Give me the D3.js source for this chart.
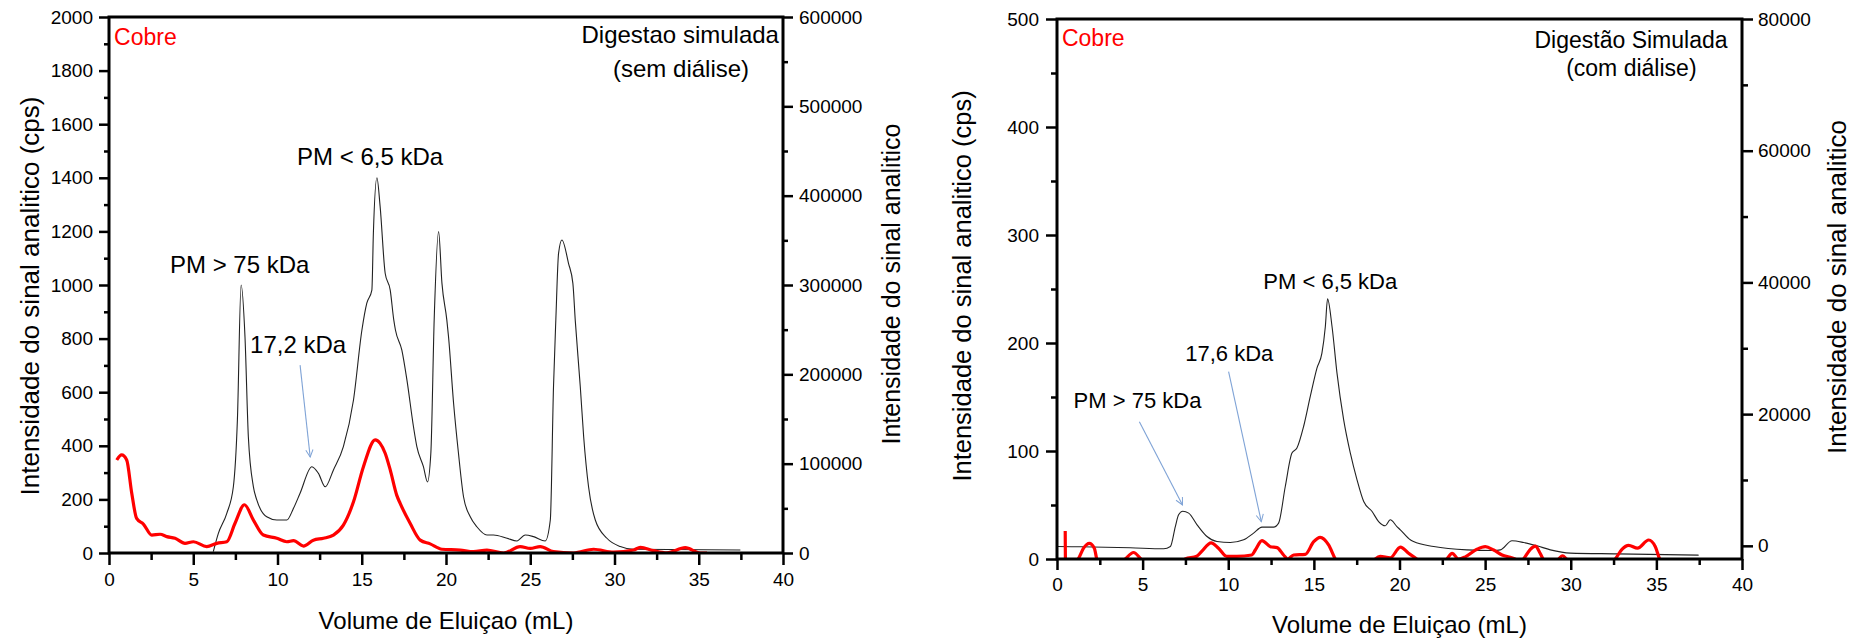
<!DOCTYPE html>
<html><head><meta charset="utf-8">
<script src="https://cdn.jsdelivr.net/npm/d3@7"></script>
<style>
body{margin:0;background:#fff}
svg{display:block}
text{font-family:"Liberation Sans",Arial,Helvetica,sans-serif;fill:#000}
</style>
</head><body>
<svg id="chart" width="1868" height="640"></svg>
<script>
// ---------- tick labels ----------
const xTickValues = [0, 5, 10, 15, 20, 25, 30, 35, 40];
const leftTicksSem = [0, 200, 400, 600, 800, 1000, 1200, 1400, 1600, 1800, 2000];
const rightTicksSem = [0, 100000, 200000, 300000, 400000, 500000, 600000];
const leftTicksCom = [0, 100, 200, 300, 400, 500];
const rightTicksCom = [0, 20000, 40000, 60000, 80000];

// ---------- series: [volume mL, value] ----------
// Cobre (left axis, cps) - digestão sem diálise
const cobreSem = [[0.46,347],[0.75,366],[1.05,347],[1.35,223],[1.64,129],[2.04,108],[2.54,67],[3.03,70],[3.43,61],[3.92,55],[4.51,36],[5.01,42],[5.80,24],[6.40,36],[6.99,42],[7.48,111],[8.04,180],[8.57,123],[9.16,67],[9.96,55],[10.55,42],[10.95,46],[11.54,26],[12.13,48],[12.73,55],[13.32,67],[13.91,104],[14.51,191],[15.10,322],[15.80,422],[16.09,409],[16.39,372],[16.69,310],[17.08,215],[17.28,185],[17.87,111],[18.47,48],[19.06,34],[19.76,14],[20.84,11],[21.63,5],[22.43,11],[23.42,0],[24.40,24],[25.00,17],[25.59,24],[26.38,5],[27.57,0],[28.76,14],[29.95,3],[31.13,11],[31.53,21],[32.32,9],[33.11,1],[34.20,20],[35.09,0],[35.49,0]];
// Sinal analítico (right axis) - digestão sem diálise
const sinalSem = [[6.19,1500],[6.49,21900],[6.99,44400],[7.38,74100],[7.62,148800],[7.84,300000],[8.07,242100],[8.27,130200],[8.57,74100],[8.77,59400],[9.36,40500],[9.96,36900],[10.55,36900],[10.95,50100],[11.34,66900],[12.04,96600],[12.43,89100],[12.83,74100],[13.32,93000],[13.91,119100],[14.51,171300],[15.01,249600],[15.30,279600],[15.60,294300],[15.69,357900],[15.90,420000],[16.09,388000],[16.39,313200],[16.69,294300],[16.90,261000],[17.00,249600],[17.38,227100],[17.68,193800],[18.07,141300],[18.27,119100],[18.66,96600],[18.90,79500],[19.10,111600],[19.30,262000],[19.56,359700],[19.76,301800],[20.05,260700],[20.15,242100],[20.45,167700],[20.74,111600],[21.04,63000],[21.44,40500],[21.83,29400],[22.43,20100],[22.82,20100],[23.62,16500],[24.21,13500],[24.70,20100],[25.20,18300],[25.89,13500],[26.19,36900],[26.38,186000],[26.52,262000],[26.68,335400],[26.88,350400],[27.27,324300],[27.53,301800],[27.67,260700],[27.97,186000],[28.17,130200],[28.46,74100],[28.86,36900],[29.55,16500],[30.34,7200],[31.13,4200],[37.47,3300]];
// Cobre (left axis, cps) - digestão com diálise
const cobreCom = [[0.48,26],[0.50,-10],[1.0,-5],[1.26,0.6],[1.55,10],[1.89,14.5],[2.18,10],[2.32,0],[2.6,-8],[3.5,-8],[3.99,0],[4.47,6],[4.9,0],[5.5,-8],[7.0,-8],[7.49,0],[8.16,2.5],[8.45,7],[9.0,15],[9.43,10],[9.91,2.5],[10.5,2.5],[11.38,3.7],[11.58,8.3],[11.97,17],[12.46,11.4],[12.85,10.5],[13.23,3.7],[13.47,0],[13.82,3.7],[14.50,4.3],[14.99,16],[15.37,20],[15.86,13],[16.25,0],[16.6,-8],[18.2,-8],[18.59,0],[18.87,2.5],[19.46,1],[20.05,11],[20.53,5.3],[21.0,0],[21.5,-8],[22.3,-8],[22.77,0],[23.07,5.3],[23.45,0],[23.84,2],[24.52,9],[25.01,11.4],[25.5,8.3],[25.99,3.7],[26.47,1.5],[26.76,0],[27.0,-5],[27.25,0],[27.64,9],[27.93,12],[28.22,5],[28.38,0],[28.8,-6],[29.3,0],[29.52,3],[29.75,0],[30.3,-8],[32.0,-8],[32.6,0],[32.99,9],[33.38,12.7],[33.9,10],[34.55,17.6],[34.94,11.4],[35.19,0],[35.4,-5]];
// Sinal analítico (right axis) - digestão com diálise
const sinalCom = [[0,-100],[1.36,-150],[4.28,-300],[6.23,-450],[6.62,-100],[6.91,2930],[7.10,4710],[7.34,5250],[7.69,4970],[8.18,3190],[8.76,1410],[9.34,650],[10.12,500],[10.90,910],[11.48,1930],[11.97,2840],[12.65,2840],[12.94,3450],[13.33,9010],[13.72,14080],[14.01,14840],[14.40,18120],[14.79,22680],[15.18,26990],[15.47,29270],[15.67,33310],[15.80,37500],[16.06,33310],[16.35,26230],[16.74,19140],[17.13,14080],[17.52,10030],[17.91,6730],[18.40,5210],[18.78,3690],[19.17,3040],[19.46,3950],[19.85,2930],[20.05,2430],[20.63,910],[20.82,650],[22.0,-100],[23.94,-610],[25.5,-710],[25.89,-610],[26.57,760],[27.25,500],[28.03,0],[28.81,-610],[29.97,-1110],[32.70,-1220],[37.47,-1420]];

// ---------- panels ----------
const svg = d3.select("#chart");
const defs = svg.append("defs");
defs.append("marker").attr("id","arrow").attr("viewBox","0 0 10 10")
  .attr("refX",9).attr("refY",5).attr("markerWidth",9).attr("markerHeight",9)
  .attr("markerUnits","userSpaceOnUse").attr("orient","auto")
  .append("path").attr("d","M1,1 L9,5 L1,9").attr("fill","none")
  .attr("stroke","#7fa3d6").attr("stroke-width",1.1);

const panels = [
  { id:"sem", x0:109, x1:783, y0:17, y1:553,
    leftDomain:[0,2000], rightDomain:[0,600000],
    leftTicks:leftTicksSem, leftMinorStep:100, rightTicks:rightTicksSem, rightMinorStep:50000,
    cobre:cobreSem, sinal:sinalSem,
    xTitleY:629, leftTitleX:39, leftTitleY:296, leftTitleFont:26, rightTitleX:900, rightTitleY:284, rightTitleFont:25,
    titleA:"Digestao simulada", titleB:"(sem diálise)", titlePos:[33.9,1903], titleBPos:[33.95,1776],
    cobrePos:[0.3,1896], annFont:24, titleFont:24,
    labels:[["PM > 75 kDa",3.62,1045],["PM < 6,5 kDa",11.16,1448],["17,2 kDa",8.37,746]],
    arrows:[[11.34,701,11.94,358]],
    xPad:8, leftPad:6, rightPad:6, majorX:12, minorX:7, majorY:10, minorY:5 },
  { id:"com", x0:1057, x1:1742, y0:19, y1:559,
    leftDomain:[0,500], rightDomain:[-2000,80000],
    leftTicks:leftTicksCom, leftMinorStep:50, rightTicks:rightTicksCom, rightMinorStep:10000,
    cobre:cobreCom, sinal:sinalCom,
    xTitleY:633, leftTitleX:971, leftTitleY:286, leftTitleFont:25.5, rightTitleX:1846, rightTitleY:287, rightTitleFont:26,
    titleA:"Digestão Simulada", titleB:"(com diálise)", titlePos:[33.52,473.6], titleBPos:[33.54,447],
    cobrePos:[0.29,475], annFont:22, titleFont:23,
    labels:[["PM > 75 kDa",0.97,139.8],["PM < 6,5 kDa",12.05,249.7],["17,6 kDa",7.49,183.3]],
    arrows:[[4.81,127.1,7.33,50],[10.02,173.4,11.93,34.5]],
    xPad:8, leftPad:7, rightPad:5, majorX:11, minorX:6, majorY:11, minorY:6 }
];

panels.forEach(p => {
  const g = svg.append("g");
  const x = d3.scaleLinear().domain([0,40]).range([p.x0,p.x1]);
  const yL = d3.scaleLinear().domain(p.leftDomain).range([p.y1,p.y0]);
  const yR = d3.scaleLinear().domain(p.rightDomain).range([p.y1,p.y0]);

  defs.append("clipPath").attr("id","clip-"+p.id).append("rect")
    .attr("x",p.x0).attr("y",p.y0).attr("width",p.x1-p.x0).attr("height",p.y1-p.y0);

  // minor ticks
  const xMinor = d3.range(2.5,40,5);
  const lMinor = d3.range(p.leftDomain[0]+p.leftMinorStep, p.leftDomain[1], p.leftMinorStep).filter(v=>!p.leftTicks.includes(v));
  const rMinor = d3.range(-100000+p.rightMinorStep, p.rightDomain[1], p.rightMinorStep)
      .filter(v=>v>=p.rightDomain[0] && !p.rightTicks.includes(v));

  const styleAxis = (sel, fs) => {
    sel.select(".domain").remove();
    sel.selectAll(".tick line").attr("stroke","#000").attr("stroke-width",2.5);
    sel.selectAll(".tick text").attr("font-size",fs).attr("fill","#000")
      .style("font-family","'Liberation Sans',Arial,sans-serif");
  };

  g.append("g").attr("transform",`translate(0,${p.y1})`)
    .call(d3.axisBottom(x).tickValues(xMinor).tickSize(p.minorX).tickFormat(""))
    .call(s=>styleAxis(s,19));
  g.append("g").attr("transform",`translate(0,${p.y1})`)
    .call(d3.axisBottom(x).tickValues(xTickValues).tickSize(p.majorX).tickPadding(p.xPad).tickFormat(d3.format("d")))
    .call(s=>styleAxis(s,19));

  g.append("g").attr("transform",`translate(${p.x0},0)`)
    .call(d3.axisLeft(yL).tickValues(lMinor).tickSize(p.minorY).tickFormat(""))
    .call(s=>styleAxis(s,19));
  g.append("g").attr("transform",`translate(${p.x0},0)`)
    .call(d3.axisLeft(yL).tickValues(p.leftTicks).tickSize(p.majorY).tickPadding(p.leftPad).tickFormat(d3.format("d")))
    .call(s=>styleAxis(s,19));

  g.append("g").attr("transform",`translate(${p.x1},0)`)
    .call(d3.axisRight(yR).tickValues(rMinor).tickSize(p.minorY).tickFormat(""))
    .call(s=>styleAxis(s,19));
  g.append("g").attr("transform",`translate(${p.x1},0)`)
    .call(d3.axisRight(yR).tickValues(p.rightTicks).tickSize(p.majorY).tickPadding(p.rightPad).tickFormat(d3.format("d")))
    .call(s=>styleAxis(s,19));

  // data lines
  const plot = g.append("g").attr("clip-path",`url(#clip-${p.id})`);
  plot.append("path").datum(p.sinal)
    .attr("fill","none").attr("stroke","#222").attr("stroke-width",1.1)
    .attr("d", d3.line().x(d=>x(d[0])).y(d=>yR(d[1])).curve(d3.curveMonotoneX));
  plot.append("path").datum(p.cobre)
    .attr("fill","none").attr("stroke","#ff0000").attr("stroke-width",3.2)
    .attr("stroke-linejoin","round")
    .attr("d", d3.line().x(d=>x(d[0])).y(d=>yL(d[1])).curve(d3.curveMonotoneX));

  // frame
  g.append("rect").attr("x",p.x0).attr("y",p.y0).attr("width",p.x1-p.x0).attr("height",p.y1-p.y0)
    .attr("fill","none").attr("stroke","#000").attr("stroke-width",3);

  // axis titles
  g.append("text").attr("x",(p.x0+p.x1)/2).attr("y",p.xTitleY).attr("text-anchor","middle")
    .attr("font-size",24).text("Volume de Eluiçao (mL)");
  g.append("text").attr("transform",`translate(${p.leftTitleX},${p.leftTitleY}) rotate(-90)`)
    .attr("text-anchor","middle").attr("font-size",p.leftTitleFont).text("Intensidade do sinal analitico (cps)");
  g.append("text").attr("transform",`translate(${p.rightTitleX},${p.rightTitleY}) rotate(-90)`)
    .attr("text-anchor","middle").attr("font-size",p.rightTitleFont).text("Intensidade do sinal analitico");

  // annotations
  g.append("text").attr("x",x(p.cobrePos[0])).attr("y",yL(p.cobrePos[1]))
    .attr("font-size",23).attr("fill","#ff0000").style("fill","#ff0000").text("Cobre");
  g.append("text").attr("x",x(p.titlePos[0])).attr("y",yL(p.titlePos[1])).attr("text-anchor","middle")
    .attr("font-size",p.titleFont).text(p.titleA);
  g.append("text").attr("x",x(p.titleBPos[0])).attr("y",yL(p.titleBPos[1])).attr("text-anchor","middle")
    .attr("font-size",p.titleFont).text(p.titleB);
  p.labels.forEach(l => {
    g.append("text").attr("x",x(l[1])).attr("y",yL(l[2])).attr("font-size",p.annFont).text(l[0]);
  });
  p.arrows.forEach(a => {
    g.append("line").attr("x1",x(a[0])).attr("y1",yL(a[1])).attr("x2",x(a[2])).attr("y2",yL(a[3]))
      .attr("stroke","#7fa3d6").attr("stroke-width",1.1).attr("marker-end","url(#arrow)");
  });
});
</script>
</body></html>
